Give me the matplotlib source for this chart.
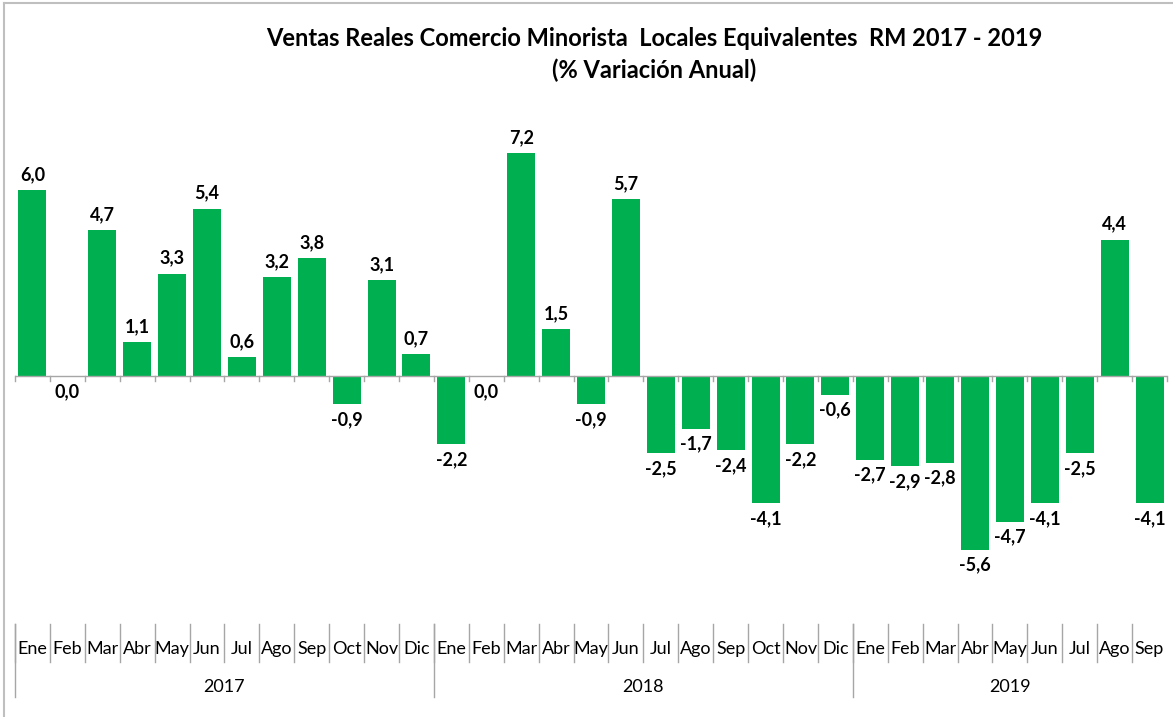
import matplotlib
matplotlib.use("Agg")
import numpy as np
from matplotlib import pyplot as plt
from matplotlib.lines import Line2D
import matplotlib.transforms as mtransforms

plt.rcParams['font.family'] = ['Lato', 'DejaVu Sans']

months = ["Ene", "Feb", "Mar", "Abr", "May", "Jun", "Jul", "Ago", "Sep", "Oct", "Nov", "Dic",
          "Ene", "Feb", "Mar", "Abr", "May", "Jun", "Jul", "Ago", "Sep", "Oct", "Nov", "Dic",
          "Ene", "Feb", "Mar", "Abr", "May", "Jun", "Jul", "Ago", "Sep"]
years = ["2017", "2018", "2019"]
months_per_year = [12, 12, 9]
values = [6.0, 0.0, 4.7, 1.1, 3.3, 5.4, 0.6, 3.2, 3.8, -0.9, 3.1, 0.7,
          -2.2, 0.0, 7.2, 1.5, -0.9, 5.7, -2.5, -1.7, -2.4, -4.1, -2.2, -0.6,
          -2.7, -2.9, -2.8, -5.6, -4.7, -4.1, -2.5, 4.4, -4.1]

W, H = 1173, 717
fig = plt.figure(figsize=(W / 100, H / 100), dpi=100)
# plot area in pixels
left, right, top, bottom = 15, 1167, 100, 620
ax = fig.add_axes([left / W, 1 - bottom / H, (right - left) / W, (bottom - top) / H])

n = len(values)
x = np.arange(n)
green = "#00B050"
ax.bar(x, values, width=0.8, color=green, zorder=2)
ax.set_xlim(-0.5, n - 0.5)
ax.set_ylim(-7.87, 8.9)
ax.axis("off")


def fy(py):
    return 1 - py / H


# zero axis line with small ticks below it
grey = "#a6a6a6"
ax.axhline(0, color=grey, lw=1, zorder=3)
for b in np.arange(n + 1) - 0.5:
    px = ax.transData.transform((b, 0))
    fx, fyy = fig.transFigure.inverted().transform(px)
    fig.add_artist(Line2D([fx, fx], [fyy, fyy - 5 / H], color=grey, lw=1))

# data labels
for xi, v in zip(x, values):
    lab = f"{v:.1f}".replace(".", ",")
    if v > 0:
        ax.annotate(lab, (xi, v), xytext=(0, 5), textcoords="offset points",
                    ha="center", va="bottom", fontsize=13, fontweight="bold")
    else:
        ax.annotate(lab, (xi, v), xytext=(0, -5), textcoords="offset points",
                    ha="center", va="top", fontsize=13, fontweight="bold")

# category axis (two levels)
trans = mtransforms.blended_transform_factory(ax.transData, fig.transFigure)
for i, m in enumerate(months):
    ax.text(i, fy(649), m, transform=trans, ha="center", va="center", fontsize=13, clip_on=False)
    ax.add_line(Line2D([i - 0.5, i - 0.5], [fy(624), fy(662)], transform=trans,
                       color=grey, lw=1, clip_on=False))

start = 0
for yr, cnt in zip(years, months_per_year):
    ax.text(start + (cnt - 1) / 2, fy(687), yr, transform=trans, ha="center", va="center",
            fontsize=13, clip_on=False)
    ax.add_line(Line2D([start - 0.5, start - 0.5], [fy(624), fy(697)], transform=trans,
                       color=grey, lw=1, clip_on=False))
    start += cnt

# title
fig.text(654 / W, fy(38), "Ventas Reales Comercio Minorista  Locales Equivalentes  RM 2017 - 2019",
         ha="center", va="center", fontsize=17, fontweight="bold")
fig.text(654 / W, fy(70), "(% Variación Anual)", ha="center", va="center",
         fontsize=17, fontweight="bold")

# chart frame (top and left visible)
fig.add_artist(Line2D([4 / W, 4 / W], [0, fy(3)], color="#bfbfbf", lw=1.5))
fig.add_artist(Line2D([4 / W, 1], [fy(3), fy(3)], color="#bfbfbf", lw=1.5))

fig.savefig("out.png", dpi=100)
